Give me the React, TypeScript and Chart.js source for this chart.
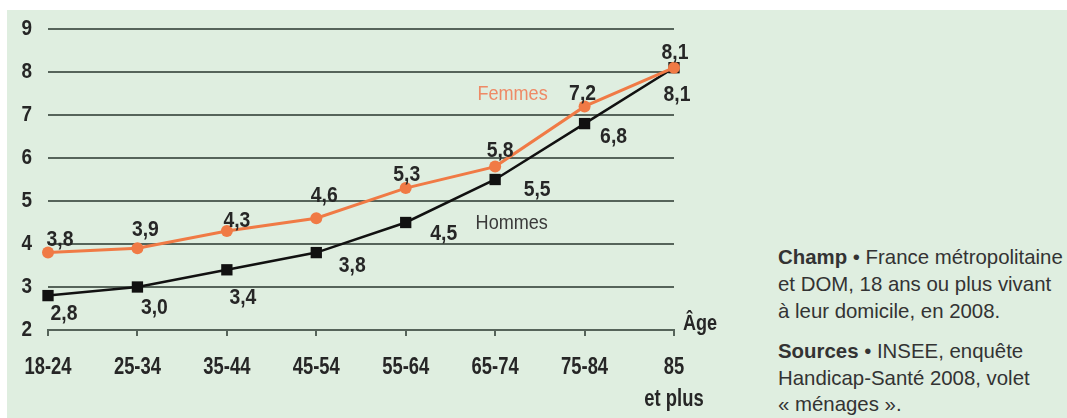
import React, { useEffect, useRef } from "react";
import { Chart, registerables } from "chart.js";

Chart.register(...registerables);

// ---- data ----
const categories: string[][] = [["18-24"], ["25-34"], ["35-44"], ["45-54"], ["55-64"], ["65-74"], ["75-84"], ["85", "et plus"]];
const femmes = [3.8, 3.9, 4.3, 4.6, 5.3, 5.8, 7.2, 8.1];
const hommes = [2.8, 3.0, 3.4, 3.8, 4.5, 5.5, 6.8, 8.1];
const yTicks = [2, 3, 4, 5, 6, 7, 8, 9];
const seriesNames = ["Femmes", "Hommes"];
const axisTitle = "Âge";

// label placement (pixel offsets from each point)
const femmesLabelOffsets = [[12, -13], [8, -18], [10, -10], [8, -22], [1, -13], [5, -16], [-2, -12], [1, -15]];
const hommesLabelOffsets = [[16, 18], [17, 21], [16, 28], [36, 13], [38, 11], [42, 10], [29, 13], [3, 27]];

const BG = "#dfeee0";
const GRID = "#56645a";
const TEXT = "#262626";
const ORANGE = "#f07a45";
const FONT = "'Liberation Sans', Arial, sans-serif";

const fmt = (v: number) => v.toFixed(1).replace(".", ",");

function narrowText(ctx: CanvasRenderingContext2D, text: string, x: number, y: number, align: CanvasTextAlign, sx: number) {
  ctx.save();
  ctx.translate(x, y);
  ctx.scale(sx, 1);
  ctx.textAlign = align;
  ctx.textBaseline = "middle";
  ctx.fillText(text, 0, 0);
  ctx.restore();
}

const textPlugin = {
  id: "narrowTexts",
  afterDraw(chart: any) {
    const ctx: CanvasRenderingContext2D = chart.ctx;
    const xs = chart.scales.x;
    const ys = chart.scales.y;
    ctx.save();
    ctx.fillStyle = TEXT;
    // y tick labels
    ctx.font = `bold 22px ${FONT}`;
    yTicks.forEach((t) => {
      narrowText(ctx, String(t), chart.chartArea.left - 16, ys.getPixelForValue(t), "right", 0.86);
    });
    // x tick labels
    ctx.font = `bold 23px ${FONT}`;
    categories.forEach((lines, i) => {
      const px = xs.getPixelForValue(i);
      lines.forEach((ln, j) => {
        narrowText(ctx, ln, px, xs.top + 38 + j * 32, "center", 0.8);
      });
    });
    // axis title
    ctx.font = `bold 22px ${FONT}`;
    narrowText(ctx, axisTitle, xs.right + 9, xs.top - 6, "left", 0.82);

    // value labels
    ctx.font = `bold 22px ${FONT}`;
    const mF = chart.getDatasetMeta(0).data;
    const mH = chart.getDatasetMeta(1).data;
    femmes.forEach((v, i) => {
      const p = mF[i];
      narrowText(ctx, fmt(v), p.x + femmesLabelOffsets[i][0], p.y + femmesLabelOffsets[i][1], "center", 0.88);
    });
    hommes.forEach((v, i) => {
      const p = mH[i];
      narrowText(ctx, fmt(v), p.x + hommesLabelOffsets[i][0], p.y + hommesLabelOffsets[i][1], "center", 0.88);
    });
    // series names
    ctx.font = `21px ${FONT}`;
    ctx.fillStyle = "#ee8a66";
    narrowText(ctx, seriesNames[0], mF[6].x - 72, mF[6].y - 12, "center", 0.86);
    ctx.fillStyle = "#3a3a3a";
    narrowText(ctx, seriesNames[1], mH[4].x + 106, mH[4].y + 1, "center", 0.86);
    ctx.restore();
  },
};

export default function App() {
  const ref = useRef<HTMLCanvasElement>(null);
  useEffect(() => {
    if (!ref.current) return;
    const chart = new Chart(ref.current, {
      type: "line",
      data: {
        labels: categories,
        datasets: [
          {
            label: seriesNames[0],
            data: femmes,
            borderColor: ORANGE,
            backgroundColor: ORANGE,
            borderWidth: 3,
            pointStyle: "circle",
            pointRadius: 6,
            pointBorderWidth: 0,
            pointBackgroundColor: ORANGE,
            tension: 0,
          },
          {
            label: seriesNames[1],
            data: hommes,
            borderColor: "#111111",
            backgroundColor: "#111111",
            borderWidth: 2.5,
            pointStyle: "rect",
            pointRadius: 8,
            pointBorderWidth: 0,
            pointBackgroundColor: "#111111",
            tension: 0,
          },
        ],
      },
      options: {
        animation: false,
        responsive: true,
        maintainAspectRatio: false,
        layout: { padding: { left: 0, top: 29, right: 86, bottom: 0 } },
        plugins: { legend: { display: false }, tooltip: { enabled: false } },
        scales: {
          x: {
            offset: false,
            grid: { drawOnChartArea: false, drawTicks: true, tickLength: 6, color: GRID, lineWidth: 2 },
            border: { display: true, color: GRID, width: 2 },
            ticks: { color: "rgba(0,0,0,0)", font: { family: FONT, size: 12 }, maxRotation: 0, autoSkip: false },
            afterFit: (s: any) => { s.height = 88; },
          },
          y: {
            min: yTicks[0],
            max: yTicks[yTicks.length - 1],
            grid: { color: GRID, lineWidth: 2, drawTicks: false },
            border: { display: false },
            ticks: { stepSize: 1, color: "rgba(0,0,0,0)", font: { family: FONT, size: 12 } },
            afterFit: (s: any) => { s.width = 48; },
          },
        },
      },
      plugins: [textPlugin],
    });
    return () => chart.destroy();
  }, []);

  return (
    <div style={{ position: "fixed", left: 0, top: 0, width: 1067, height: 418, background: "#ffffff", overflow: "hidden" }}>
      <div style={{ position: "absolute", left: 7, top: 10, width: 1060, height: 408, background: BG }} />
      <div style={{ position: "absolute", left: 0, top: 0, width: 760, height: 418 }}>
        <canvas ref={ref} />
      </div>
      <div
        style={{
          position: "absolute",
          left: 778,
          top: 244,
          fontFamily: "'Liberation Sans', Arial, sans-serif",
          fontSize: 20.4,
          lineHeight: "27px",
          color: "#333333",
          whiteSpace: "nowrap",
        }}
      >
        <div>
          <b>Champ</b> • France métropolitaine<br />
          et DOM, 18 ans ou plus vivant<br />
          à leur domicile, en 2008.
        </div>
        <div style={{ marginTop: 13, lineHeight: "26.5px" }}>
          <b>Sources</b> • INSEE, enquête<br />
          Handicap-Santé 2008, volet<br />
          « ménages ».
        </div>
      </div>
    </div>
  );
}
